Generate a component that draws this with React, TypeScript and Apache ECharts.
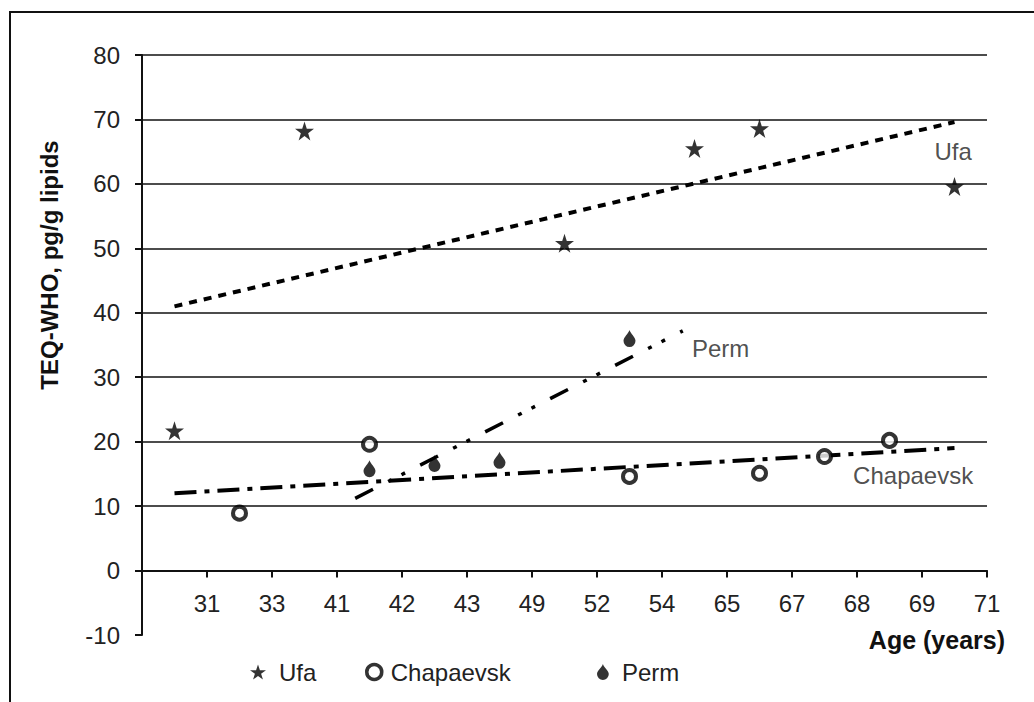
import React, { useEffect, useRef } from "react";
import * as echarts from "echarts";

// Category (age) labels shown on the x axis
const ageLabels = ["31", "33", "41", "42", "43", "49", "52", "54", "65", "67", "68", "69", "71"];

// Measured values per category (null = no sample for that city)
const ufaValues = [21.7, null, 68.2, null, null, null, 50.8, null, 65.5, 68.6, null, null, 59.6];
const chapaevskValues = [null, 8.9, null, 19.6, null, null, null, 14.6, null, 15.1, 17.7, 20.2, null];
const permValues = [null, null, null, 15.8, 16.6, 17.1, null, 36.0, null, null, null, null, null];

// Linear trend lines: [categoryIndex, value] start and end points
const ufaTrend = [[0, 41.0], [12, 69.6]];
const chapaevskTrend = [[0, 12.0], [12, 19.0]];
const permTrend = [[2.78, 11.2], [7.82, 37.2]];

const FONT = "'Liberation Sans', Arial, Helvetica, sans-serif";
const INK = "#111";

const STAR = "path://M50,0 L61.8,35.3 L98.9,35.3 L68.9,57.1 L80.2,92.7 L50,70.6 L19.8,92.7 L31.1,57.1 L1.1,35.3 L38.2,35.3 Z";
const DROP = "path://M50,0 C56,22 92,48 92,72 A42,42 0 0 1 8,72 C8,48 44,22 50,0 Z";

function toPoints(values: (number | null)[]) {
  const pts: number[][] = [];
  values.forEach((v, i) => {
    if (v !== null) pts.push([i + 0.5, v]);
  });
  return pts;
}

function trendPoints(t: number[][]) {
  return t.map(([x, y]) => [x + 0.5, y]);
}

export default function App() {
  const ref = useRef<HTMLDivElement>(null);

  useEffect(() => {
    const chart = echarts.init(ref.current!, null, { renderer: "svg" });
    const gridColors = ["rgba(0,0,0,0)"];
    for (let i = 0; i < 9; i++) gridColors.push(INK);

    const legendBase = {
      top: 655,
      itemWidth: 16,
      itemHeight: 16,
      selectedMode: false,
      orient: "horizontal",
      textStyle: { fontSize: 24, fontFamily: FONT, color: "#222", padding: [0, 0, 0, 8] },
    };

    const option: any = {
      animation: false,
      backgroundColor: "#fff",
      grid: { left: 142, right: 47, top: 55, bottom: 67, containLabel: false },
      legend: [
        { ...legendBase, left: 245, data: [{ name: "Ufa", icon: STAR, itemStyle: { color: "#000" } }] },
        {
          ...legendBase,
          left: 360,
          itemWidth: 15,
          itemHeight: 15,
          textStyle: { ...legendBase.textStyle, padding: [0, 0, 0, 4] },
          data: [{ name: "Chapaevsk", icon: "circle", itemStyle: { color: "#fff", borderColor: "#000", borderWidth: 3.5 } }],
        },
        { ...legendBase, left: 592, itemWidth: 12, itemHeight: 16, data: [{ name: "Perm", icon: DROP, itemStyle: { color: "#000" } }] },
      ],
      xAxis: {
        type: "value",
        min: 0,
        max: 13,
        interval: 1,
        axisLine: { show: true, onZero: true, lineStyle: { color: INK, width: 2 } },
        axisTick: { show: true, length: 7, lineStyle: { color: INK, width: 2 } },
        splitLine: { show: false },
        axisLabel: {
          show: true,
          showMinLabel: true,
          showMaxLabel: true,
          margin: -44,
          fontSize: 24,
          fontFamily: FONT,
          color: "#222",
          formatter: (v: number) => (v >= 1 && v <= ageLabels.length ? ageLabels[v - 1] : ""),
        },
      },
      yAxis: {
        type: "value",
        min: -10,
        max: 80,
        interval: 10,
        axisLine: { show: true, onZero: false, lineStyle: { color: INK, width: 2 } },
        axisTick: { show: true, length: 7, lineStyle: { color: INK, width: 2 } },
        splitLine: { show: true, lineStyle: { color: gridColors, width: 1.5 } },
        axisLabel: { margin: 22, fontSize: 24, fontFamily: FONT, color: "#222" },
      },
      graphic: [
        {
          type: "rect",
          silent: true,
          z: -10,
          shape: { x: 10, y: 12, width: 1100, height: 800 },
          style: { fill: "none", stroke: INK, lineWidth: 2 },
        },
        {
          type: "text",
          x: 49,
          y: 265,
          rotation: Math.PI / 2,
          style: {
            text: "TEQ-WHO, pg/g lipids",
            font: `bold 24px ${FONT}`,
            fill: INK,
            align: "center",
            verticalAlign: "middle",
          },
        },
        {
          type: "text",
          right: 29,
          top: 627,
          style: { text: "Age (years)", font: `bold 25px ${FONT}`, fill: INK },
        },
      ],
      series: [
        {
          name: "Ufa trend",
          type: "line",
          data: trendPoints(ufaTrend),
          symbol: "none",
          silent: true,
          z: 2,
          lineStyle: { color: "#000", width: 4, type: [8, 7] },
        },
        {
          name: "Chapaevsk trend",
          type: "line",
          data: trendPoints(chapaevskTrend),
          symbol: "none",
          silent: true,
          z: 2,
          lineStyle: { color: "#000", width: 4, type: [22, 8, 5, 8] },
        },
        {
          name: "Perm trend",
          type: "line",
          data: trendPoints(permTrend),
          symbol: "none",
          silent: true,
          z: 2,
          lineStyle: { color: "#000", width: 3.5, type: [20, 17, 4, 11, 4, 17] },
        },
        {
          name: "Ufa",
          type: "scatter",
          data: toPoints(ufaValues),
          symbol: STAR,
          symbolSize: 19,
          z: 4,
          itemStyle: { color: "#000" },
        },
        {
          name: "Chapaevsk",
          type: "scatter",
          data: toPoints(chapaevskValues),
          symbol: "circle",
          symbolSize: 13,
          z: 4,
          itemStyle: { color: "#fff", borderColor: "#000", borderWidth: 4 },
        },
        {
          name: "Perm",
          type: "scatter",
          data: toPoints(permValues),
          symbol: DROP,
          symbolSize: [12, 17],
          z: 4,
          itemStyle: { color: "#000" },
        },
        {
          name: "trend labels",
          type: "scatter",
          silent: true,
          symbolSize: 0,
          z: 5,
          label: { show: true, fontSize: 24, fontFamily: FONT, color: "#222" },
          data: [
            { value: [12.48, 65.1], label: { position: "inside", formatter: "Ufa" } },
            { value: [8.46, 34.5], label: { position: "right", distance: 0, formatter: "Perm" } },
            { value: [10.94, 14.75], label: { position: "right", distance: 0, formatter: "Chapaevsk" } },
          ],
        },
      ],
    };

    chart.setOption(option);
    return () => chart.dispose();
  }, []);

  return (
    <div
      ref={ref}
      style={{ position: "absolute", left: 0, top: 0, width: 1034, height: 702, background: "#fff" }}
    />
  );
}
